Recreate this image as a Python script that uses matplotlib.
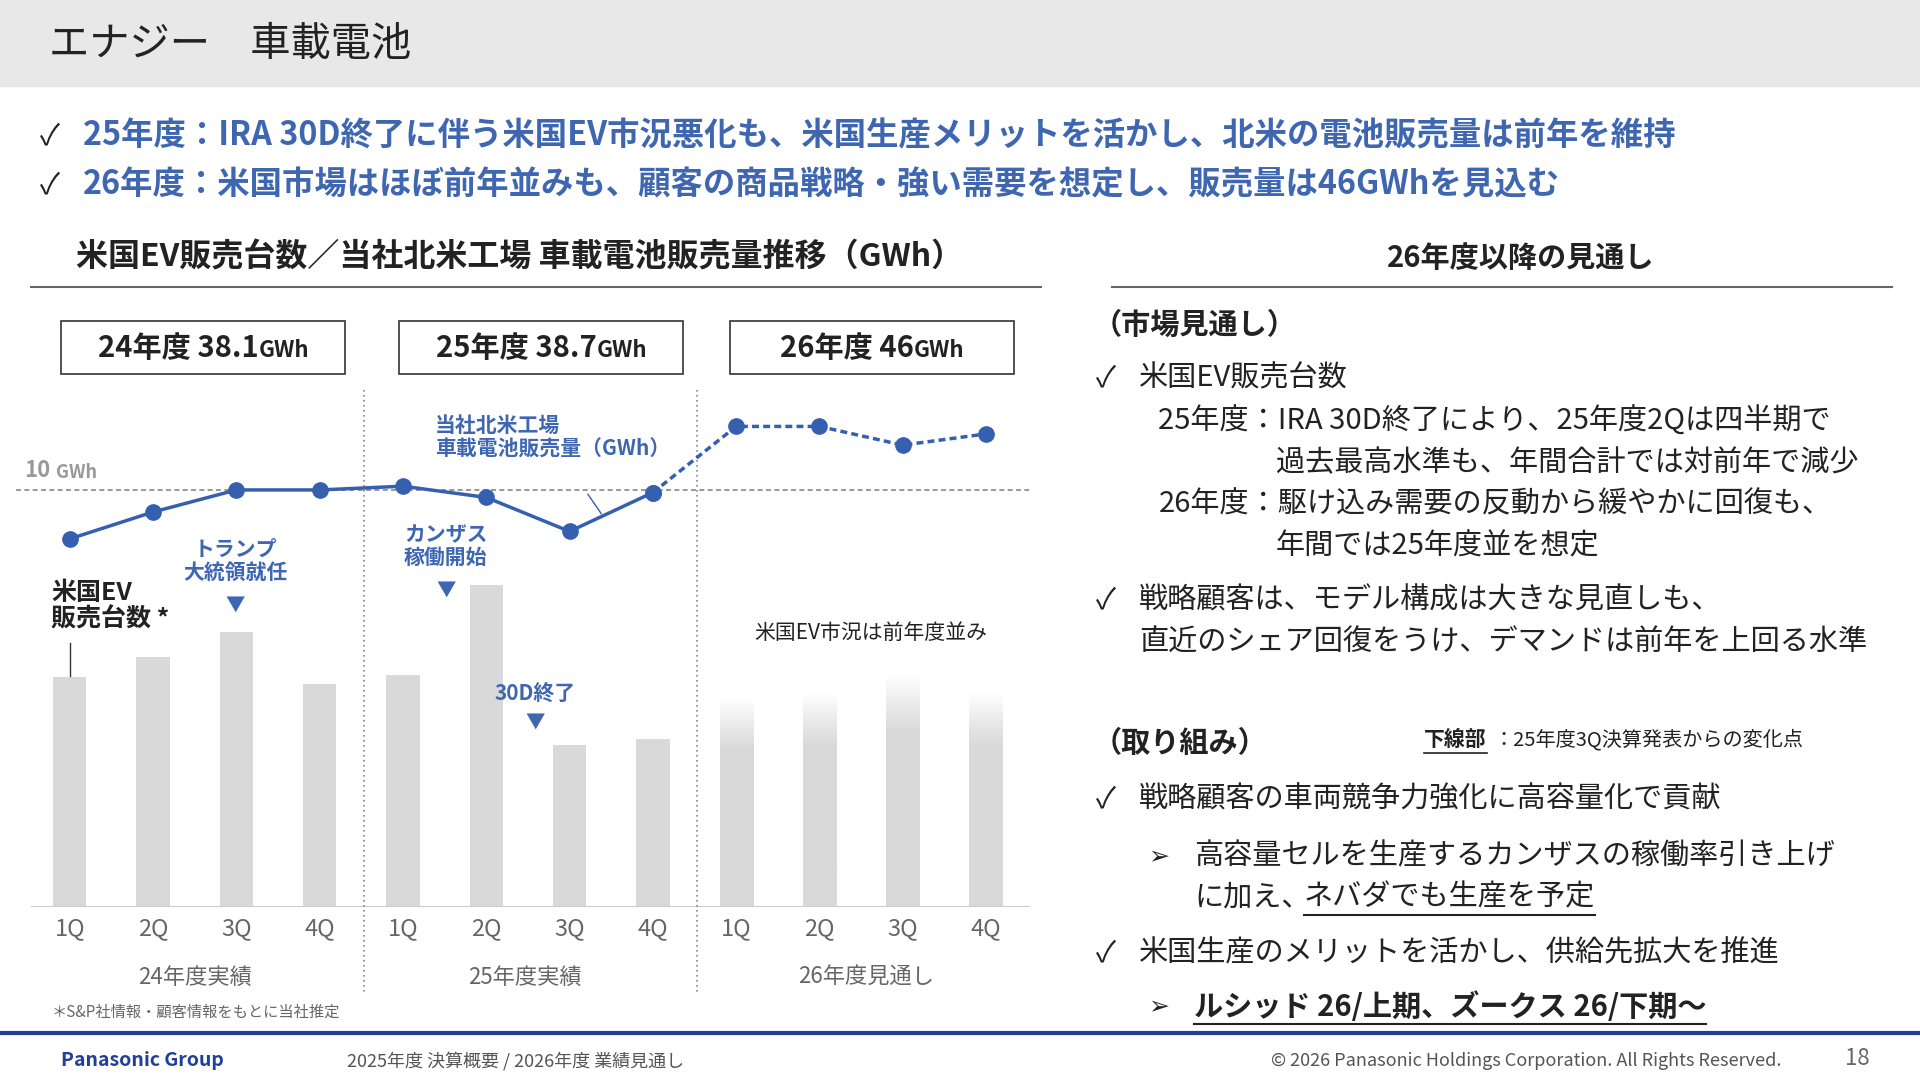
import matplotlib.pyplot as plt
import numpy as np
from matplotlib.patches import Rectangle
from matplotlib.colors import LinearSegmentedColormap

plt.rcParams['font.family'] = ['Noto Sans CJK JP', 'DejaVu Sans']

W, H = 1568.0, 885.0
BLUE = "#3f67b1"
LINE = "#3560b0"
GREY_BAR = "#d9d9d9"

quarters = ["1Q", "2Q", "3Q", "4Q"] * 3
# US EV sales (thousand units, estimated)
ev_sales = [300, 326, 358, 291, 302, 420, 211, 219, 272, 280, 304, 280]
# North America battery sales (GWh)
gwh = [8.69, 9.41, 10.0, 10.0, 10.1, 9.8, 8.89, 9.93, 11.7, 11.7, 11.2, 11.5]
year_labels = ["24年度実績", "25年度実績", "26年度見通し"]
year_totals = ["24年度 38.1", "25年度 38.7", "26年度 46"]
box_centres = [166, 442, 712]


def fx(x):
    return x / W


def fy(y):
    return 1 - y / H


fig = plt.figure(figsize=(19.2, 10.84), dpi=100)
renderer = fig.canvas.get_renderer()
inv = fig.transFigure.inverted()


def underline(t, y, lw=1.5):
    bb = t.get_window_extent(renderer).transformed(inv)
    fig.add_artist(plt.Line2D([bb.x0, bb.x1], [fy(y), fy(y)], color="#222222", lw=lw))


# header band
fig.patches.append(Rectangle((0, fy(70)), 1, 70 / H, transform=fig.transFigure,
                             color="#e8e8e8", zorder=0))
fig.text(fx(40), fy(36), "エナジー　車載電池", fontsize=29, color="#222222", va="center")

bullets = ["25年度：IRA 30D終了に伴う米国EV市況悪化も、米国生産メリットを活かし、北米の電池販売量は前年を維持",
           "26年度：米国市場はほぼ前年並みも、顧客の商品戦略・強い需要を想定し、販売量は46GWhを見込む"]
for i, b in enumerate(bullets):
    y = fy(111 + 40 * i)
    fig.text(fx(33), y, "✓", fontsize=21, color="#222222", va="center")
    fig.text(fx(68), y, b, fontsize=23.3, color=BLUE, weight="bold", va="center")

# chart heading
fig.text(fx(62), fy(210), "米国EV販売台数／当社北米工場 車載電池販売量推移（GWh）",
         fontsize=23, weight="bold", color="#222222", va="center")
fig.add_artist(plt.Line2D([fx(25), fx(850)], [fy(234), fy(234)], color="#666666", lw=1.5))
fig.text(fx(1242), fy(211), "26年度以降の見通し", fontsize=21, weight="bold",
         color="#222222", ha="center", va="center")
fig.add_artist(plt.Line2D([fx(908), fx(1545)], [fy(234), fy(234)], color="#666666", lw=1.5))

# year total boxes
for t, cx in zip(year_totals, box_centres):
    fig.patches.append(Rectangle((fx(cx - 116), fy(305)), 232 / W, 43 / H,
                                 transform=fig.transFigure, fill=False,
                                 ec="#333333", lw=1.2))
    t1 = fig.text(0, fy(284), t, fontsize=21, weight="bold", va="center", color="#222222")
    t2 = fig.text(0, fy(286), "GWh", fontsize=16, weight="bold", va="center", color="#222222")
    w1 = t1.get_window_extent(renderer).transformed(inv).width
    w2 = t2.get_window_extent(renderer).transformed(inv).width
    x0 = fx(cx) - (w1 + w2) / 2
    t1.set_x(x0)
    t2.set_x(x0 + w1)

# bar axes
ax = fig.add_axes([fx(25), fy(740), fx(840) - fx(25), 420 / H])
x = np.arange(len(ev_sales))
ax.set_xlim(-0.47, 11.51)
ax.set_ylim(0, 672)
bw = 0.4
cmap = LinearSegmentedColormap.from_list("g", ["#ffffff", GREY_BAR])
for i, v in enumerate(ev_sales):
    if i < 8:
        ax.bar(i, v, width=bw, color=GREY_BAR, zorder=1)
    else:
        r = Rectangle((i - bw / 2, 0), bw, v, fc="none", ec="none")
        ax.add_patch(r)
        grad = np.clip(np.linspace(0, 1, 100) * 4, 0, 1).reshape(-1, 1)
        img = ax.imshow(grad, extent=(i - bw / 2, i + bw / 2, 0, v), aspect="auto",
                        cmap=cmap, vmin=0, vmax=1, zorder=1, origin="upper")
        img.set_clip_path(r)
ax.set_xticks(x)
ax.set_xticklabels(quarters, fontsize=17, color="#666666")
ax.tick_params(length=0, pad=8)
ax.set_yticks([])
for s in ["top", "left", "right"]:
    ax.spines[s].set_visible(False)
ax.spines["bottom"].set_color("#cccccc")

# line axes
ax2 = ax.twinx()
ax2.set_ylim(10 - 340 / 30.5, 10 + 80 / 30.5)
ax2.set_yticks([])
for s in ax2.spines.values():
    s.set_visible(False)
ax2.axhline(10, xmin=-0.015, color="#888888", ls=(0, (3, 2)), lw=1.2, clip_on=False)
ax2.plot(x[:8], gwh[:8], color=LINE, lw=2.5, marker="o", ms=11, zorder=3)
ax2.plot(x[7:], gwh[7:], color=LINE, lw=2.5, ls=(0, (2, 1.2)), marker="o", ms=11, zorder=3)
ax.set_zorder(1)
ax2.set_zorder(2)
ax2.annotate("", xy=(6.4, 9.3), xytext=(6.2, 9.95),
             arrowprops=dict(arrowstyle="-", color=LINE, lw=1))

fig.text(fx(20), fy(384), "10", fontsize=16, weight="bold", color="#999999", va="center")
fig.text(fx(46), fy(386), "GWh", fontsize=13, weight="bold", color="#999999", va="center")

# separators
for px in [297, 569]:
    fig.add_artist(plt.Line2D([fx(px), fx(px)], [fy(318), fy(812)], color="#888888",
                              ls=(0, (1, 2)), lw=1.2))

# annotations
fig.text(fx(355), fy(357), "当社北米工場\n車載電池販売量（GWh）", fontsize=15, color=BLUE,
         weight="bold", va="center", linespacing=1.2)
fig.text(fx(192), fy(458), "トランプ\n大統領就任", fontsize=15, color=BLUE, weight="bold",
         ha="center", va="center", linespacing=1.1)
fig.text(fx(192), fy(494), "▼", fontsize=14, color=BLUE, ha="center", va="center")
fig.text(fx(364), fy(446), "カンザス\n稼働開始", fontsize=15, color=BLUE, weight="bold",
         ha="center", va="center", linespacing=1.1)
fig.text(fx(364), fy(482), "▼", fontsize=14, color=BLUE, ha="center", va="center")
fig.text(fx(437), fy(566), "30D終了", fontsize=15, color=BLUE, weight="bold",
         ha="center", va="center")
fig.text(fx(437), fy(590), "▼", fontsize=14, color=BLUE, ha="center", va="center")
fig.text(fx(42), fy(495), "米国EV\n販売台数 *", fontsize=18, color="#222222", weight="bold",
         va="center", linespacing=1.15)
fig.add_artist(plt.Line2D([fx(57), fx(57)], [fy(525), fy(552)], color="#333333", lw=1))
fig.text(fx(711), fy(517), "米国EV市況は前年度並み", fontsize=15, color="#222222",
         ha="center", va="center")

for i, t in enumerate(year_labels):
    fig.text(fx(159 + 274 * i - (4 if i == 1 else 0)), fy(798), t, fontsize=16,
             color="#666666", ha="center", va="center")
fig.text(fx(42), fy(826), "＊S&P社情報・顧客情報をもとに当社推定", fontsize=11,
         color="#666666", va="center")

# right column
R = dict(fontsize=21, color="#222222", va="center")
fig.text(fx(892), fy(265), "（市場見通し）", weight="bold", **R)
fig.text(fx(895), fy(309), "✓", **R)
fig.text(fx(930), fy(309), "米国EV販売台数", **R)
fig.text(fx(946), fy(344), "25年度：IRA 30D終了により、25年度2Qは四半期で", **R)
fig.text(fx(1042), fy(378), "過去最高水準も、年間合計では対前年で減少", **R)
fig.text(fx(946), fy(412), "26年度：駆け込み需要の反動から緩やかに回復も、", **R)
fig.text(fx(1042), fy(446), "年間では25年度並を想定", **R)
fig.text(fx(895), fy(490), "✓", **R)
fig.text(fx(930), fy(490), "戦略顧客は、モデル構成は大きな見直しも、", **R)
fig.text(fx(930), fy(525), "直近のシェア回復をうけ、デマンドは前年を上回る水準", **R)
fig.text(fx(892), fy(607), "（取り組み）", weight="bold", **R)
t = fig.text(fx(1163), fy(604), "下線部", fontsize=15, color="#222222", weight="bold", va="center")
underline(t, 615, 1.2)
fig.text(fx(1220), fy(604), "：25年度3Q決算発表からの変化点", fontsize=14.5, color="#222222", va="center")
fig.text(fx(895), fy(653), "✓", **R)
fig.text(fx(930), fy(653), "戦略顧客の車両競争力強化に高容量化で貢献", **R)
fig.text(fx(938), fy(699), "➢", fontsize=18, color="#222222", va="center")
fig.text(fx(975), fy(699), "高容量セルを生産するカンザスの稼働率引き上げ", **R)
fig.text(fx(975), fy(733), "に加え、", **R)
t = fig.text(fx(1065), fy(733), "ネバダでも生産を予定", **R)
underline(t, 747)
fig.text(fx(895), fy(778), "✓", **R)
fig.text(fx(930), fy(778), "米国生産のメリットを活かし、供給先拡大を推進", **R)
fig.text(fx(938), fy(822), "➢", fontsize=18, color="#222222", va="center")
t = fig.text(fx(975), fy(822), "ルシッド 26/上期、ズークス 26/下期～", fontsize=21, weight="bold",
             color="#222222", va="center")
underline(t, 836)

# footer
fig.add_artist(plt.Line2D([0, 1], [fy(843), fy(843)], color="#1f3f9a", lw=3))
fig.text(fx(50), fy(866), "Panasonic Group", fontsize=14, weight="bold", color="#1f3f9a",
         va="center")
fig.text(fx(283), fy(866), "2025年度 決算概要 / 2026年度 業績見通し", fontsize=13,
         color="#555555", va="center")
fig.text(fx(1455), fy(866), "© 2026 Panasonic Holdings Corporation. All Rights Reserved.",
         fontsize=13, color="#555555", va="center", ha="right")
fig.text(fx(1527), fy(864), "18", fontsize=16, color="#666666", va="center", ha="right")

fig.savefig("out.png", dpi=100)
